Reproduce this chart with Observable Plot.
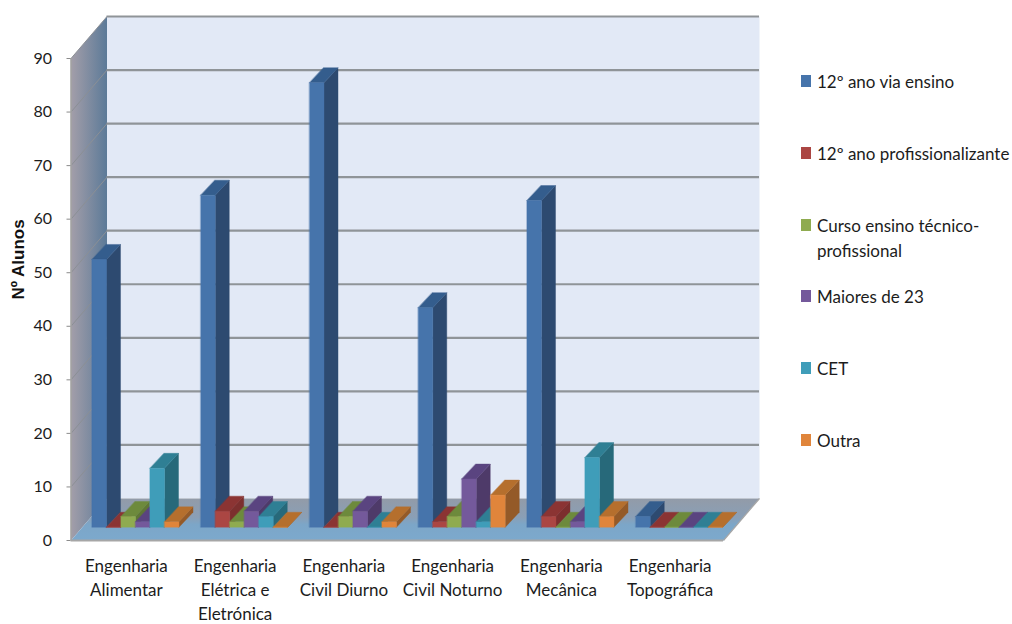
<!DOCTYPE html>
<html lang="pt">
<head>
<meta charset="utf-8">
<title>Nº Alunos por curso</title>
<script src="https://cdn.jsdelivr.net/npm/d3@7"></script>
<script src="https://cdn.jsdelivr.net/npm/@observablehq/plot@0.6"></script>
<style>
  html, body { margin: 0; background: #fff; }
  #page { position: relative; width: 1012px; height: 624px; overflow: hidden; color: #1c1c1c; }
  #legend { position: absolute; left: 801px; top: 69px; font: 17px/25px Lato, sans-serif; }
  #legend .row { position: relative; height: 71.8px; padding-left: 16px; white-space: nowrap; }
  #legend .swatch { position: absolute; left: 0; top: 6px; width: 10px; height: 12px; }
</style>
</head>
<body>
<div id="page"></div>
<script>
// Cursos, vias de acesso e número de alunos
const courses = [
  "Engenharia\nAlimentar",
  "Engenharia\nElétrica e\nEletrónica",
  "Engenharia\nCivil Diurno",
  "Engenharia\nCivil Noturno",
  "Engenharia\nMecânica",
  "Engenharia\nTopográfica"
];
const seriesNames = ["12º ano via ensino", "12º ano profissionalizante", "Curso ensino técnico-\nprofissional", "Maiores de 23", "CET", "Outra"];
const viaEnsino = [50, 62, 83, 41, 61, 2];
const profissionalizante = [0, 3, 0, 1, 2, 0];
const tecnicoProfissional = [2, 1, 2, 2, 0, 0];
const maiores23 = [1, 3, 3, 9, 1, 0];
const cet = [11, 2, 0, 1, 13, 0];
const outra = [1, 0, 1, 6, 2, 0];
const seriesValues = [viaEnsino, profissionalizante, tecnicoProfissional, maiores23, cet, outra];
const yTicks = [0, 10, 20, 30, 40, 50, 60, 70, 80, 90];

// Cor de cada série: frente, lateral, topo
const frontColors = ["#4674ab", "#ab4643", "#8fab50", "#74599b", "#3f9db9", "#e0853b"];
const sideColors  = ["#2d4a70", "#7c2f2e", "#5f7735", "#4e3a69", "#27697a", "#945a28"];
const topColors   = ["#345d8d", "#8b3433", "#6d8a3c", "#5a4480", "#2f7f94", "#b56f2d"];

// Projeção oblíqua: profundidade da parede em unidades de x e de y
const wallDx = 36 / 108.75;
const wallDy = 42 / 5.355;
// Frente e fundo das barras dentro da profundidade
const barFront = {x: 0.093, y: 2.48};
const barBack = {x: 0.222, y: 5.28};
const barWidth = 0.8 / 6;

// Faces das barras, da esquerda para a direita, para se sobreporem corretamente
const faces = [];
function face(id, color, points) {
  for (const [x, y] of points) faces.push({id, color, x, y});
}
courses.forEach((_, i) => {
  seriesValues.forEach((values, j) => {
    const v = values[i];
    const x0 = i + 0.1 + j * barWidth + barFront.x;
    const x1 = x0 + barWidth;
    const sx = barBack.x - barFront.x;
    const y0 = barFront.y;
    const y1 = y0 + v;
    const sy = barBack.y - barFront.y;
    face(`${i}-${j}-side`, sideColors[j], [[x1, y0], [x1 + sx, y0 + sy], [x1 + sx, y1 + sy], [x1, y1]]);
    face(`${i}-${j}-top`, topColors[j], [[x0, y1], [x1, y1], [x1 + sx, y1 + sy], [x0 + sx, y1 + sy]]);
    face(`${i}-${j}-front`, frontColors[j], [[x0, y0], [x1, y0], [x1, y1], [x0, y1]]);
  });
});

const polygon = (pts, fill) =>
  Plot.line(pts, {x: "0", y: "1", fill, stroke: "none", curve: "linear-closed"});

// Gradientes da parede lateral e do chão
const gradients = () => {
  const defs = d3.create("svg:defs");
  const wall = defs.append("linearGradient").attr("id", "wall-side");
  wall.append("stop").attr("offset", "0%").attr("stop-color", "#a39ea9");
  wall.append("stop").attr("offset", "100%").attr("stop-color", "#5c7a98");
  const floor = defs.append("linearGradient").attr("id", "floor").attr("x1", 0).attr("x2", 0).attr("y1", 0).attr("y2", 1);
  floor.append("stop").attr("offset", "0%").attr("stop-color", "#929ba8");
  floor.append("stop").attr("offset", "45%").attr("stop-color", "#8a9fb6");
  floor.append("stop").attr("offset", "62%").attr("stop-color", "#7ca6c8");
  floor.append("stop").attr("offset", "100%").attr("stop-color", "#7ca9cd");
  return defs.node();
};

const chart = Plot.plot({
  width: 1012,
  height: 624,
  marginLeft: 70.5,
  marginRight: 289,
  marginTop: 58,
  marginBottom: 84,
  style: {background: "transparent", color: "#1c1c1c"},
  color: {type: "identity"},
  x: {domain: [0, 6], axis: null},
  y: {domain: [0, 90], axis: null},
  marks: [
    gradients,
    // Parede do fundo, parede lateral e chão
    polygon([[wallDx, wallDy], [6 + wallDx, wallDy], [6 + wallDx, 90 + wallDy], [wallDx, 90 + wallDy]], "#e2e9f6"),
    polygon([[0, 0], [wallDx, wallDy], [wallDx, 90 + wallDy], [0, 90]], "url(#wall-side)"),
    polygon([[0, 0], [6, 0], [6 + wallDx, wallDy], [wallDx, wallDy]], "url(#floor)"),
    // Grelha nas duas paredes
    Plot.ruleY(yTicks.slice(1), {y: (d) => d + wallDy, x1: wallDx, x2: 6 + wallDx, stroke: "#8f9498", strokeWidth: 2.2}),
    Plot.link(yTicks.slice(1), {x1: 0, y1: (d) => d, x2: wallDx, y2: (d) => d + wallDy, stroke: "#8b8f95", strokeWidth: 1}),
    // Arestas do referencial
    Plot.ruleX([0], {y1: 0, y2: 90, stroke: "#a3a3a3", strokeWidth: 1.6}),
    Plot.ruleY([0], {x1: 0, x2: 6, stroke: "#a6a6a6", strokeWidth: 2}),
    Plot.link([0], {x1: 6, y1: 0, x2: 6 + wallDx, y2: wallDy, stroke: "#a6a6a6", strokeWidth: 1.2}),
    // Barras
    Plot.line(faces, {x: "x", y: "y", z: "id", fill: "color", stroke: "color", strokeWidth: 0.4, curve: "linear-closed"}),
    // Eixos e rótulos
    Plot.axisY({ticks: yTicks, tickSize: 4, tickPadding: 15, stroke: "#8b8b8b", fontSize: 16, fontFamily: "Lato, sans-serif", label: null}),
    Plot.text(courses, {
      x: (_, i) => i + 0.5,
      y: 0,
      text: (d) => d,
      dx: 1,
      dy: 14,
      lineAnchor: "top",
      lineHeight: 1.42,
      fontSize: 17,
      fontFamily: "Lato, sans-serif",
      fill: "#1c1c1c"
    }),
    Plot.text(["Nº Alunos"], {
      frameAnchor: "left",
      y: 45,
      dx: -52.5,
      rotate: -90,
      fontSize: 17,
      fontWeight: "bold",
      fontFamily: "'Liberation Sans', Arial, sans-serif",
      fill: "#111"
    })
  ]
});

const page = document.getElementById("page");
page.append(chart);

// Legenda à direita do gráfico
const legend = document.createElement("div");
legend.id = "legend";
seriesNames.forEach((name, j) => {
  const row = document.createElement("div");
  row.className = "row";
  const swatch = document.createElement("span");
  swatch.className = "swatch";
  swatch.style.background = frontColors[j];
  row.append(swatch);
  name.split("\n").forEach((line) => {
    const el = document.createElement("div");
    el.textContent = line;
    row.append(el);
  });
  legend.append(row);
});
page.append(legend);
</script>
</body>
</html>
